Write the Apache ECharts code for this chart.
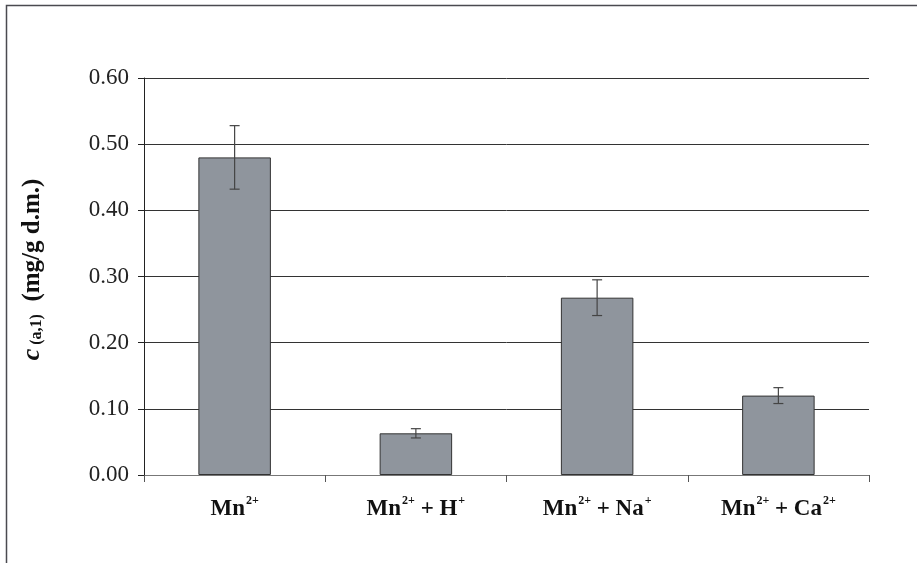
<!DOCTYPE html>
<html>
<head>
<meta charset="utf-8">
<script src="https://cdn.jsdelivr.net/npm/echarts@6/dist/echarts.min.js"></script>
<style>
  html, body { margin: 0; padding: 0; background: #fff; }
  #main { width: 917px; height: 563px; }
</style>
</head>
<body>
<div id="main"></div>
<script>
// categories (rich text markup for the superscripts)
var categories = ['{b|Mn}{s|2+}', '{b|Mn}{s|2+}{b| + H}{s|+}', '{b|Mn}{s|2+}{b| + Na}{s|+}', '{b|Mn}{s|2+}{b| + Ca}{s|2+}']
// mean values, mg/g d.m.
var values = [0.480, 0.063, 0.268, 0.120]
// error (+/-)
var errors = [0.048, 0.007, 0.027, 0.012]
var yTicks = [0, 0.1, 0.2, 0.3, 0.4, 0.5, 0.6]

var myChart = echarts.init(document.getElementById('main'))

var errData = values.map(function (v, i) {
  return [i, v - errors[i], v + errors[i]]
})

var serif = 'Liberation Serif'

var option = {
  animation: false,
  backgroundColor: '#fff',
  textStyle: { fontFamily: serif },
  graphic: [{
    // outer frame (only top and left visible)
    type: 'rect',
    shape: { x: 6.5, y: 5.5, width: 1200, height: 1200 },
    style: { fill: 'none', stroke: '#4a4a50', lineWidth: 1.5 },
    silent: true
  }],
  grid: {
    left: 144,
    right: 48,
    top: 78,
    bottom: 88
  },
  xAxis: {
    type: 'category',
    data: categories,
    boundaryGap: true,
    axisLine: { lineStyle: { color: '#777', width: 1 } },
    axisTick: { show: true, length: 7, inside: false, lineStyle: { color: '#555' } },
    axisLabel: {
      margin: 20,
      interval: 0,
      formatter: function (v) { return v },
      rich: {
        b: { fontFamily: serif, fontWeight: 'bold', fontSize: 23, color: '#111', lineHeight: 26, verticalAlign: 'bottom' },
        s: { fontFamily: serif, fontWeight: 'bold', fontSize: 12, color: '#111', lineHeight: 13, verticalAlign: 'top', padding: [0, 0, 0, 1] }
      }
    }
  },
  yAxis: {
    type: 'value',
    min: yTicks[0],
    max: yTicks[yTicks.length - 1],
    interval: 0.1,
    name: '{i|c}{sub| (a,1)}{b|  (mg/g d.m.)}',
    nameLocation: 'middle',
    nameGap: 99,
    nameRotate: 90,
    nameTextStyle: {
      rich: {
        // left padding pushes the rotated title up a little
        i: { fontFamily: serif, fontWeight: 'bold', fontStyle: 'italic', fontSize: 26, color: '#111', lineHeight: 28, verticalAlign: 'bottom', padding: [0, 0, 0, 14] },
        sub: { fontFamily: serif, fontWeight: 'bold', fontSize: 16, color: '#111', lineHeight: 19, verticalAlign: 'bottom' },
        b: { fontFamily: serif, fontWeight: 'bold', fontSize: 25, color: '#111', lineHeight: 28, verticalAlign: 'bottom' }
      }
    },
    axisLine: { show: true, lineStyle: { color: '#222', width: 1 } },
    axisTick: { show: true, length: 6, inside: false, lineStyle: { color: '#222' } },
    axisLabel: {
      margin: 15,
      fontFamily: serif,
      fontSize: 23,
      color: '#222',
      formatter: function (v) { return v.toFixed(2) }
    },
    splitLine: { show: true, lineStyle: { color: '#333', width: 1 } }
  },
  series: [
    {
      type: 'bar',
      data: values,
      barWidth: '40%',
      itemStyle: {
        color: '#8f959d',
        borderColor: '#333',
        borderWidth: 1
      },
      z: 2
    },
    {
      // error bars
      type: 'custom',
      data: errData,
      z: 3,
      renderItem: function (params, api) {
        var x = api.value(0)
        var lo = api.coord([x, api.value(1)])
        var hi = api.coord([x, api.value(2)])
        var cap = 5
        var style = { stroke: '#444', lineWidth: 1.2 }
        return {
          type: 'group',
          children: [
            { type: 'line', shape: { x1: hi[0], y1: hi[1], x2: lo[0], y2: lo[1] }, style: style },
            { type: 'line', shape: { x1: hi[0] - cap, y1: hi[1], x2: hi[0] + cap, y2: hi[1] }, style: style },
            { type: 'line', shape: { x1: lo[0] - cap, y1: lo[1], x2: lo[0] + cap, y2: lo[1] }, style: style }
          ]
        }
      }
    }
  ]
}
myChart.setOption(option)
</script>
</body>
</html>
